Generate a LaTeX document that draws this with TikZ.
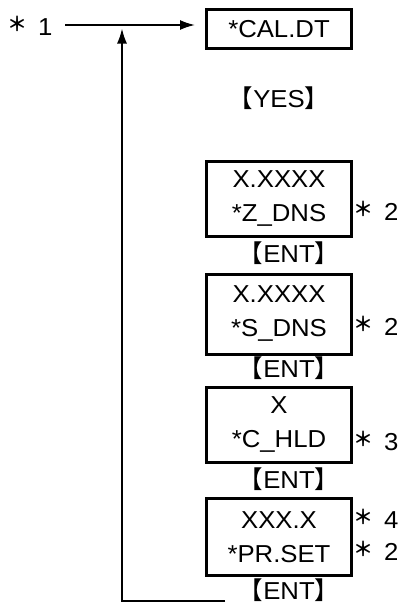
\documentclass[tikz,border=0pt]{standalone}
\usepackage{fontspec}
\setmainfont{Liberation Sans}[FakeStretch=1.05]
\newfontfamily\cjk{Noto Sans CJK JP}
\newfontfamily\cjkbold{Noto Sans CJK JP Bold}
\usetikzlibrary{arrows.meta}
\newcommand\mystar{\raisebox{4.5pt}{\fontsize{20}{20}\cjkbold ＊}}
\newcommand\brk[1]{{\cjk【}#1{\cjk】}}
\begin{document}
\begin{tikzpicture}[x=1pt,y=-1pt,
  box/.style={draw, line width=3pt, minimum width=145pt, inner sep=0pt, align=center,
              font=\fontsize{24.5}{34}\selectfont},
  lbl/.style={font=\fontsize{24.5}{28}\selectfont, inner sep=0pt},
  arr/.style={line width=1.8pt, -{Latex[length=15pt,width=10pt]}}]
\useasboundingbox (0,0) rectangle (404,605);

\node[box, minimum height=39pt] (cal) at (279,29) {*CAL.DT};
\node[lbl] (yes) at (279,98) {\brk{YES}};

\node[box, minimum height=75pt] (z) at (279,198.5) {X.XXXX\\*Z\_DNS};
\node[lbl] (ent1) at (289,253) {\brk{ENT}};
\node[box, minimum height=80pt] (s) at (279,314) {X.XXXX\\*S\_DNS};
\node[lbl] (ent2) at (289,368) {\brk{ENT}};
\node[box, minimum height=75pt] (c) at (279,425) {X\\*C\_HLD};
\node[lbl] (ent3) at (289,479) {\brk{ENT}};
\node[box, minimum height=77pt] (p) at (279,537) {XXX.X\\*PR.SET};
\node[lbl] (ent4) at (289,590) {\brk{ENT}};

\node[lbl, anchor=west] (m1) at (7,26) {\mystar\hspace{11pt}1};
\node[lbl, anchor=west] (mz) at (353,211) {\mystar\hspace{11pt}2};
\node[lbl, anchor=west] (ms) at (353,326) {\mystar\hspace{11pt}2};
\node[lbl, anchor=west] (mc) at (353,441) {\mystar\hspace{11pt}3};
\node[lbl, anchor=west, align=left, font=\fontsize{24.5}{32}\selectfont] (mp) at (353,535)
  {\mystar\hspace{11pt}4\\\mystar\hspace{11pt}2};

\coordinate (h0) at (65,25);
\draw[arr, shorten >=10pt] (h0) -- (h0 -| cal.west);

\coordinate (b0) at (225,601);
\coordinate (b1) at (122,601);
\coordinate (tip) at (122,28.5);
\draw[arr] (b0) -- (b1) -- (tip);
\end{tikzpicture}
\end{document}
